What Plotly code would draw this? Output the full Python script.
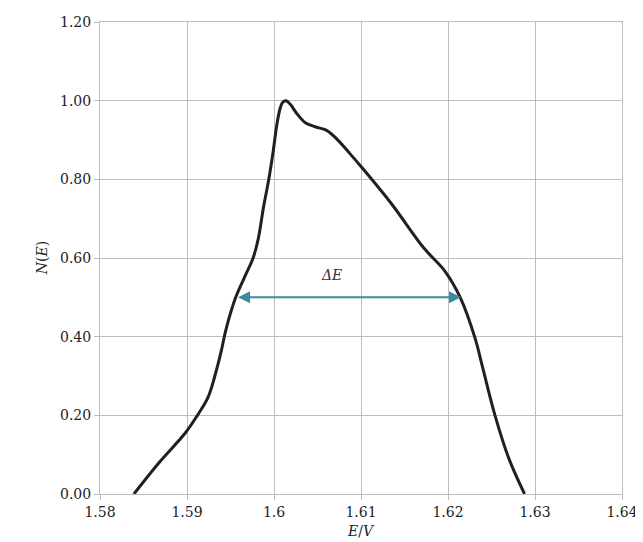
import plotly.graph_objects as go

energy = [1.5839, 1.5868, 1.5898, 1.5912, 1.5924, 1.5932, 1.5939, 1.5945, 1.5956,
          1.5968, 1.5976, 1.5982, 1.5988, 1.5994, 1.5999, 1.6003, 1.6007, 1.6010,
          1.6014, 1.6019, 1.6026, 1.6036, 1.6048, 1.6060, 1.6072, 1.6087, 1.6101,
          1.6135, 1.6172, 1.6197, 1.6214, 1.6231, 1.6240, 1.6254, 1.6270, 1.6288]
density = [0.000, 0.080, 0.155, 0.200, 0.245, 0.300, 0.360, 0.420, 0.500,
           0.560, 0.600, 0.650, 0.730, 0.800, 0.870, 0.935, 0.980, 0.996,
           1.000, 0.990, 0.968, 0.944, 0.933, 0.925, 0.903, 0.866, 0.830,
           0.738, 0.626, 0.565, 0.500, 0.397, 0.320, 0.200, 0.090, 0.000]

x_ticks = [1.58, 1.59, 1.60, 1.61, 1.62, 1.63, 1.64]
x_tick_labels = ["1.58", "1.59", "1.6", "1.61", "1.62", "1.63", "1.64"]
y_ticks = [0.0, 0.2, 0.4, 0.6, 0.8, 1.0, 1.2]
y_tick_labels = ["0.00", "0.20", "0.40", "0.60", "0.80", "1.00", "1.20"]

fwhm_left, fwhm_right, fwhm_level = 1.5957, 1.6215, 0.50

font = "DejaVu Serif"
grid = "#bdbdbd"

fig = go.Figure()
fig.add_trace(go.Scatter(
    x=energy, y=density, mode="lines",
    line=dict(color="#231f20", width=3, shape="spline", smoothing=1.0),
    showlegend=False, hoverinfo="skip"))

fig.add_annotation(
    x=fwhm_right, y=fwhm_level, ax=fwhm_left, ay=fwhm_level,
    xref="x", yref="y", axref="x", ayref="y",
    showarrow=True, arrowhead=2, startarrowhead=2, arrowside="end+start",
    arrowsize=1.2, startarrowsize=1.2, arrowwidth=2, arrowcolor="#3a8aa0",
    standoff=0, startstandoff=0, text="")
fig.add_annotation(
    x=(fwhm_left + fwhm_right) / 2, y=fwhm_level, xref="x", yref="y",
    text="<i>ΔE</i>", showarrow=False, yshift=22, xshift=-17,
    font=dict(family=font, size=14, color="#333333"))
fig.add_annotation(
    x=-0.13, y=0.5, xref="paper", yref="paper", text="<i>N</i>(<i>E</i>)",
    showarrow=False, textangle=-90, font=dict(family=font, size=14, color="#222222"))
fig.add_annotation(
    x=0.5, y=-0.1, xref="paper", yref="paper", text="<i>E</i>/<i>V</i>",
    showarrow=False, font=dict(family=font, size=14, color="#222222"))

fig.update_layout(
    width=643, height=542,
    margin=dict(l=92, r=29, t=14, b=56),
    paper_bgcolor="white", plot_bgcolor="white",
    font=dict(family=font, size=14, color="#222222"),
    xaxis=dict(range=[1.58, 1.64], tickvals=x_ticks, ticktext=x_tick_labels,
               showgrid=True, gridcolor=grid, gridwidth=1, automargin=False,
               showline=True, linecolor=grid, linewidth=1, mirror=True,
               ticks="outside", ticklen=5, tickcolor=grid, zeroline=False),
    yaxis=dict(range=[0, 1.2], tickvals=y_ticks, ticktext=y_tick_labels,
               showgrid=True, gridcolor=grid, gridwidth=1, automargin=False,
               showline=True, linecolor=grid, linewidth=1, mirror=True,
               ticks="outside", ticklen=5, tickcolor=grid, zeroline=False),
)

fig.write_html("out.html")
